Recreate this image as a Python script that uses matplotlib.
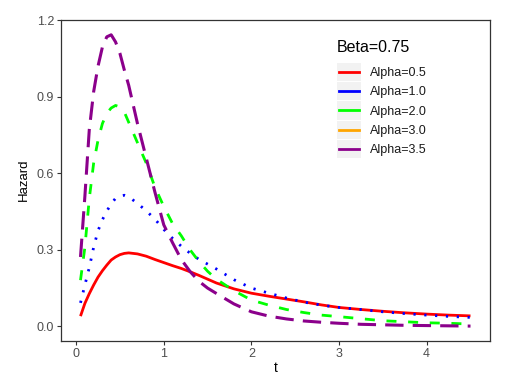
import matplotlib
matplotlib.use("Agg")
import matplotlib.pyplot as plt
from matplotlib.patches import Rectangle
from matplotlib.lines import Line2D

plt.rcParams['font.family'] = ['Liberation Sans', 'DejaVu Sans']

# values
t = [0.05, 0.1, 0.15, 0.2, 0.25, 0.3, 0.35, 0.4, 0.45, 0.5, 0.55, 0.6, 0.7, 0.8, 0.9,
     1.0, 1.1, 1.2, 1.3, 1.4, 1.5, 1.6, 1.8, 2.0, 2.2, 2.4, 2.6, 2.8, 3.0, 3.25,
     3.5, 3.75, 4.0, 4.25, 4.5]
h_a05 = [0.04, 0.09, 0.128, 0.162, 0.193, 0.218, 0.24, 0.26, 0.272, 0.281, 0.286, 0.288,
         0.284, 0.275, 0.262, 0.25, 0.238, 0.227, 0.214, 0.2, 0.185, 0.17, 0.147, 0.13,
         0.118, 0.107, 0.096, 0.084, 0.074, 0.066, 0.059, 0.053, 0.048, 0.044, 0.041]
h_a10 = [0.092, 0.162, 0.23, 0.31, 0.375, 0.418, 0.452, 0.48, 0.502, 0.51, 0.514, 0.508,
         0.482, 0.453, 0.42, 0.38, 0.345, 0.314, 0.287, 0.263, 0.244, 0.225, 0.183, 0.15,
         0.13, 0.111, 0.095, 0.083, 0.074, 0.066, 0.057, 0.05, 0.044, 0.039, 0.035]
h_a20 = [0.181, 0.31, 0.5, 0.64, 0.73, 0.795, 0.835, 0.856, 0.866, 0.86, 0.84, 0.8,
         0.72, 0.64, 0.545, 0.47, 0.403, 0.355, 0.3, 0.255, 0.216, 0.185, 0.14, 0.103,
         0.083, 0.066, 0.054, 0.044, 0.038, 0.03, 0.022, 0.018, 0.014, 0.012, 0.009]
h_a35 = [0.272, 0.51, 0.77, 0.92, 1.02, 1.095, 1.135, 1.143, 1.115, 1.07, 1.005, 0.945,
         0.795, 0.66, 0.525, 0.398, 0.328, 0.262, 0.215, 0.177, 0.15, 0.129, 0.088, 0.057,
         0.04, 0.029, 0.021, 0.016, 0.012, 0.008, 0.006, 0.004, 0.003, 0.002, 0.001]

labels = ['Alpha=0.5', 'Alpha=1.0', 'Alpha=2.0', 'Alpha=3.0', 'Alpha=3.5']
colors = ['#FF0000', '#0000FF', '#00FF00', '#FFA500', '#8B008B']
yticks = [0.0, 0.3, 0.6, 0.9, 1.2]
xticks = [0, 1, 2, 3, 4]


class KeyHandler:
    # grey key box with a solid line across it, like ggplot's legend keys
    def legend_artist(self, legend, orig_handle, fontsize, handlebox):
        x0, y0 = -handlebox.xdescent, -handlebox.ydescent
        w, h = handlebox.width, handlebox.height
        tr = handlebox.get_transform()
        rect = Rectangle((x0, y0), w, h, facecolor='#F2F2F2', edgecolor='none',
                         transform=tr)
        line = Line2D([x0 + 0.08 * w, x0 + 0.92 * w], [y0 + h / 2, y0 + h / 2],
                      color=orig_handle.get_color(), lw=2, transform=tr)
        handlebox.add_artist(rect)
        handlebox.add_artist(line)
        return line


fig = plt.figure(figsize=(5.31, 3.78), dpi=100)
ax = fig.add_axes([61/531, 1-340.7/378, 429/531, 321.2/378])

ax.plot(t, h_a05, color=colors[0], lw=2, solid_capstyle='butt')
ax.plot(t, h_a10, color=colors[1], lw=2, linestyle=(0, (0.8, 3.1)))
ax.plot(t, h_a20, color=colors[2], lw=2, linestyle=(0, (3.6, 4.2)))
ax.plot(t, h_a35, color=colors[4], lw=2.2, linestyle=(0, (6.0, 3.0)))

ax.set_xlim(-0.1725, 4.7225)
ax.set_ylim(-0.0563, 1.203)
ax.set_xticks(xticks)
ax.set_yticks(yticks)
ax.set_xticklabels([str(v) for v in xticks])
ax.set_yticklabels(['%.1f' % v for v in yticks])
for s in ax.spines.values():
    s.set_color('#333333')
    s.set_linewidth(0.9)
ax.tick_params(direction='out', length=3, width=0.8, color='#333333',
               labelcolor='#4D4D4D', labelsize=9, pad=2)
ax.set_xlabel('t', fontsize=10, color='black', labelpad=1)
ax.set_ylabel('Hazard', fontsize=9.5, color='black', labelpad=5)

handles = [Line2D([], [], color=c) for c in colors]
fig.text(337/531, 1-48/378, 'Beta=0.75', fontsize=11.5, ha='left', va='center',
         color='black')
leg = ax.legend(handles, labels, handler_map={Line2D: KeyHandler()},
                loc='upper left', bbox_to_anchor=(337/531, 1-63/378),
                bbox_transform=fig.transFigure, frameon=False, borderpad=0,
                borderaxespad=0, fontsize=9, handlelength=1.92, handleheight=1.85,
                labelspacing=0.09, handletextpad=0.72)
for txt in leg.get_texts():
    txt.set_color('#1A1A1A')

fig.savefig('out.png', dpi=100)
